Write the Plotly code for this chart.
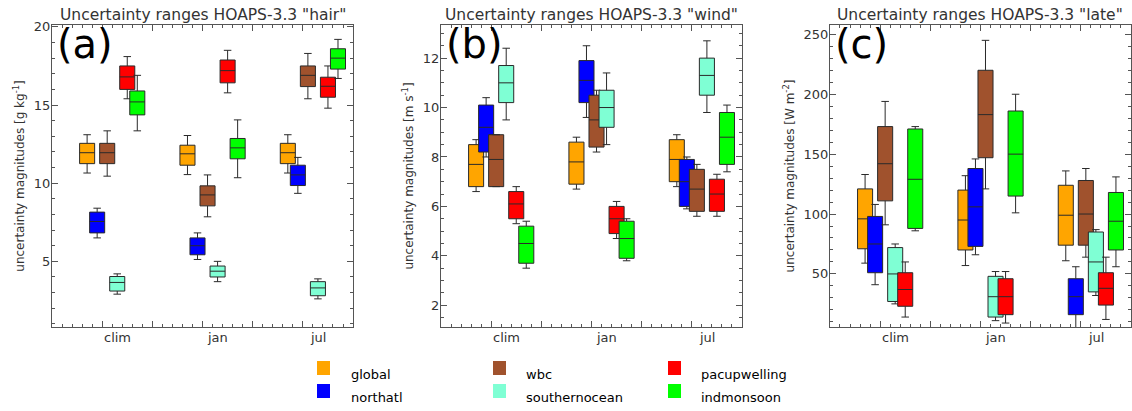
import plotly.graph_objects as go
from plotly.subplots import make_subplots

categories = ["clim", "jan", "jul"]
series = ["global", "northatl", "wbc", "southernocean", "pacupwelling", "indmonsoon"]
colors = ["#FFA500", "#0000FF", "#A0522D", "#7FFFD4", "#FF0000", "#00FF00"]

# each series: [low, q1, median, q3, high] for clim, jan, jul
hair = {
    "global":        [[10.65, 11.25, 11.95, 12.55, 13.1], [10.55, 11.15, 11.88, 12.43, 13.05], [10.65, 11.25, 11.95, 12.55, 13.1]],
    "northatl":      [[6.5, 6.82, 7.55, 8.15, 8.4], [5.12, 5.42, 6.0, 6.5, 6.82], [9.35, 9.85, 10.53, 11.15, 11.65]],
    "wbc":           [[10.45, 11.25, 11.95, 12.55, 13.35], [7.85, 8.55, 9.25, 9.83, 10.53], [15.4, 16.18, 16.9, 17.5, 18.3]],
    "southernocean": [[2.9, 3.1, 3.65, 4.03, 4.2], [3.7, 4.0, 4.37, 4.7, 5.0], [2.6, 2.8, 3.3, 3.7, 3.88]],
    "pacupwelling":  [[15.4, 16.0, 16.8, 17.5, 18.1], [15.78, 16.42, 17.2, 17.88, 18.5], [14.8, 15.5, 16.2, 16.78, 17.5]],
    "indmonsoon":    [[13.35, 14.37, 15.2, 15.9, 16.9], [10.35, 11.56, 12.26, 12.86, 14.05], [16.7, 17.3, 18.0, 18.6, 19.2]],
}
wind = {
    "global":        [[6.6, 6.8, 7.7, 8.5, 8.7], [6.7, 6.9, 7.8, 8.6, 8.8], [6.8, 7.0, 7.9, 8.7, 8.9]],
    "northatl":      [[8.0, 8.2, 9.2, 10.1, 10.4], [9.6, 10.2, 11.1, 11.9, 12.5], [5.9, 6.0, 7.0, 7.9, 8.0]],
    "wbc":           [[6.8, 6.8, 7.9, 8.9, 8.9], [8.2, 8.4, 9.5, 10.5, 10.7], [5.6, 5.8, 6.7, 7.5, 7.7]],
    "southernocean": [[9.5, 10.2, 11.0, 11.7, 12.4], [8.5, 9.2, 10.0, 10.7, 11.4], [9.8, 10.5, 11.3, 12.0, 12.7]],
    "pacupwelling":  [[5.3, 5.5, 6.1, 6.6, 6.8], [4.7, 4.9, 5.5, 6.0, 6.2], [5.6, 5.8, 6.5, 7.1, 7.3]],
    "indmonsoon":    [[3.5, 3.7, 4.5, 5.2, 5.4], [3.8, 3.9, 4.7, 5.4, 5.5], [7.4, 7.7, 8.8, 9.8, 10.1]],
}
late = {
    "global":        [[59, 71, 96, 121, 133], [57, 70, 95, 120, 132], [61, 74, 99, 124, 136]],
    "northatl":      [[41, 51, 75, 98, 108], [66, 73, 106, 138, 146], [5, 16, 31, 46, 56]],
    "wbc":           [[91, 111, 142, 173, 194], [121, 147, 183, 220, 245], [64, 74, 100, 128, 138]],
    "southernocean": [[25, 27, 50, 72, 75], [11, 14, 31, 48, 52], [32, 35, 60, 85, 87]],
    "pacupwelling":  [[14, 23, 37, 51, 60], [9, 16, 31, 46, 52], [12, 24, 38, 51, 64]],
    "indmonsoon":    [[86, 88, 129, 171, 173], [101, 115, 150, 186, 200], [56, 70, 94, 118, 131]],
}

titles = ['Uncertainty ranges HOAPS-3.3 "hair"',
          'Uncertainty ranges HOAPS-3.3 "wind"',
          'Uncertainty ranges HOAPS-3.3 "late"']
ylabels = ["uncertainty magnitudes [g kg<sup>-1</sup>]",
           "uncertainty magnitudes [m s<sup>-1</sup>]",
           "uncertainty magnitudes [W m<sup>-2</sup>]"]
panel_tags = ["(a)", "(b)", "(c)"]
yranges = [[0.8, 20.12], [1.12, 13.34], [5.7, 257.8]]
ydticks = [5, 2, 50]
yminor = [1, 0.5, 10]
datasets = [hair, wind, late]

FONT = "DejaVu Sans"
GRAY = "#555555"
TXT = "#333333"

fig = make_subplots(rows=1, cols=3, horizontal_spacing=0.0815)
doms = [[0.0, 0.279], [0.3605, 0.6395], [0.721, 1.0]]

cat_center = 0.65
step = 0.1
for p, data in enumerate(datasets):
    for s, name in enumerate(series):
        vals = data[name]
        xs = [i + cat_center + (s - 3) * step for i in range(len(categories))]
        fig.add_trace(go.Box(
            x=xs,
            lowerfence=[v[0] for v in vals],
            q1=[v[1] for v in vals],
            median=[v[2] for v in vals],
            q3=[v[3] for v in vals],
            upperfence=[v[4] for v in vals],
            width=0.15, whiskerwidth=0.5,
            fillcolor=colors[s],
            line=dict(color="#2a2a2a", width=1),
            name=name, showlegend=False, hoverinfo="skip",
        ), row=1, col=p + 1)

for p in range(3):
    ax = "" if p == 0 else str(p + 1)
    fig.update_layout({
        f"xaxis{ax}": dict(
            domain=doms[p], range=[0, 3], showline=True, mirror="ticks",
            linecolor=GRAY, linewidth=1, ticks="inside", ticklen=6, tickcolor=GRAY,
            tickvals=[0.5, 1.0, 1.5, 2.0, 2.5], showticklabels=False,
            minor=dict(dtick=0.1, tick0=0, ticklen=3, ticks="inside", tickcolor=GRAY),
            showgrid=False, zeroline=False, automargin=False,
        ),
        f"yaxis{ax}": dict(
            range=yranges[p], showline=True, mirror="ticks",
            linecolor=GRAY, linewidth=1, ticks="inside", ticklen=6, tickcolor=GRAY,
            dtick=ydticks[p], tick0=0,
            minor=dict(dtick=yminor[p], tick0=0, ticklen=3, ticks="inside", tickcolor=GRAY),
            showgrid=False, zeroline=False, automargin=False,
            tickfont=dict(family=FONT, size=13, color=TXT), ticklabelstandoff=-2,
            title=dict(text=ylabels[p], font=dict(family=FONT, size=12, color=TXT), standoff=6),
        ),
    })
    xref = "x" if p == 0 else f"x{p + 1}"
    # category labels
    for i, c in enumerate(categories):
        fig.add_annotation(x=i + cat_center, y=0, xref=xref, yref="paper",
                           text=c, showarrow=False, xanchor="center", yanchor="top", yshift=-1,
                           font=dict(family=FONT, size=13, color=TXT))
    # title
    fig.add_annotation(x=(doms[p][0] + doms[p][1]) / 2, y=1, xref="paper", yref="paper",
                       text=titles[p], showarrow=False, xanchor="center", yanchor="bottom", yshift=-1,
                       font=dict(family=FONT, size=15.5, color=TXT))
    # panel tag
    fig.add_annotation(x=0.01, y=1.0, xref=f"{xref} domain", yref="paper",
                       text=panel_tags[p], showarrow=False, xanchor="left", yanchor="top",
                       yshift=6, font=dict(family=FONT, size=40, color="black"))

# legend drawn below the panels
leg_x_sq = [317, 493, 668]
leg_x_tx = [349, 524, 699]
leg_y_sq = [361, 384]
W, H = 1132, 411
ml, mr, mt, mb = 52, 1, 25, 84
pw, ph = W - ml - mr, H - mt - mb

def px(x):
    return (x - ml) / pw

def py(y):
    return (H - mb - y) / ph

for s, name in enumerate(series):
    col, row = s // 2, s % 2
    x0 = leg_x_sq[col]
    y0 = leg_y_sq[row]
    fig.add_shape(type="rect", xref="paper", yref="paper",
                  x0=px(x0), x1=px(x0 + 13), y0=py(y0 + 14), y1=py(y0),
                  fillcolor=colors[s], line=dict(width=0))
    fig.add_annotation(x=px(leg_x_tx[col]), y=py(y0 + 13), xref="paper", yref="paper",
                       text=name, showarrow=False, xanchor="left", yanchor="middle",
                       font=dict(family=FONT, size=13, color="black"))

fig.update_layout(
    width=W, height=H, margin=dict(l=ml, r=mr, t=mt, b=mb, autoexpand=False),
    paper_bgcolor="white", plot_bgcolor="white",
    boxmode="overlay", showlegend=False,
    font=dict(family=FONT),
)
fig.write_html("out.html", config={"displayModeBar": False},
               post_script="document.body.style.margin='0';document.body.style.overflow='hidden';")
